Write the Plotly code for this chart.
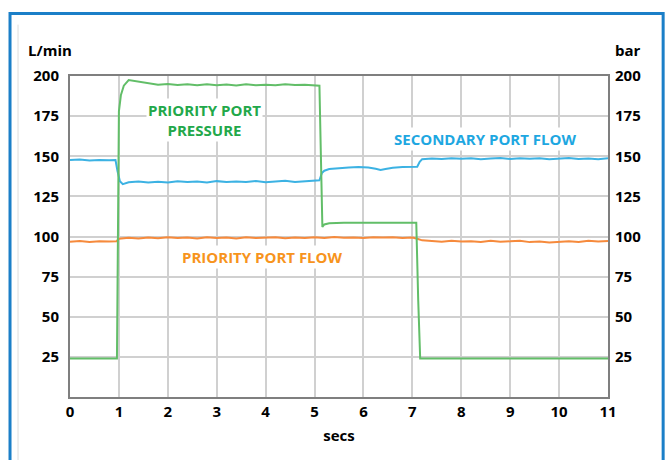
import plotly.graph_objects as go

# ---- data ----
t_pressure = [0, 0.5, 0.96, 0.98, 1.0, 1.04, 1.1, 1.2, 1.3, 1.45, 1.6, 1.8,
              2.0, 2.2, 2.4, 2.6, 2.8, 3.0, 3.2, 3.4, 3.6, 3.8, 4.0, 4.2, 4.4, 4.6, 4.8, 5.0,
              5.1, 5.13, 5.16, 5.2, 5.3, 5.6, 6.0, 6.5, 7.0, 7.08, 7.12, 7.16, 7.5, 8, 9, 10, 11]
priority_pressure = [24, 24, 24, 100, 178, 188, 194, 197.5, 197, 196, 195.2, 194.6,
                     195, 194.4, 194.8, 194.2, 194.9, 194.3, 194.7, 194.1, 194.8, 194.3, 194.6, 194.2, 194.9, 194.4, 194.6, 194.3,
                     194, 150, 106, 107.5, 108.3, 108.5, 108.5, 108.5, 108.5, 108.5, 60, 24, 24, 24, 24, 24, 24]

t_secondary = [0, 0.2, 0.4, 0.6, 0.8, 0.93, 0.97, 1.02, 1.08,
               1.2, 1.4, 1.6, 1.8, 2.0, 2.2, 2.4, 2.6, 2.8, 3.0, 3.2, 3.4, 3.6, 3.8, 4.0, 4.2, 4.4, 4.6, 4.8, 5.0,
               5.1, 5.15, 5.2, 5.3, 5.5, 5.7, 5.9, 6.1, 6.25, 6.35, 6.45, 6.6, 6.8, 7.0, 7.1,
               7.15, 7.2, 7.4, 7.6, 7.8, 8.0, 8.2, 8.4, 8.6, 8.8, 9.0, 9.2, 9.4, 9.6, 9.8, 10.0, 10.2, 10.4, 10.6, 10.8, 11.0]
secondary_flow = [147.6, 147.9, 147.4, 147.7, 147.5, 147.6, 141, 134.5, 132.6,
                  133.8, 134.3, 133.7, 134.1, 133.6, 134.4, 133.9, 134.2, 133.7, 134.5, 133.9, 134.3, 134.0, 134.6, 133.8, 134.2, 134.7, 134.0, 134.5, 134.9,
                  135.0, 139.5, 141.0, 142.0, 142.6, 143.0, 143.3, 143.0, 142.2, 141.4, 142.0, 142.9, 143.3, 143.6, 143.5,
                  146.5, 148.2, 148.6, 148.3, 148.8, 148.4, 148.7, 148.2, 148.6, 148.9, 148.3, 148.7, 148.4, 148.8, 148.2, 148.5, 148.9, 148.3, 148.6, 148.2, 148.8]

t_priority = [0, 0.2, 0.4, 0.6, 0.8, 0.95,
              1.0, 1.2, 1.4, 1.6, 1.8, 2.0, 2.2, 2.4, 2.6, 2.8, 3.0, 3.2, 3.4, 3.6, 3.8, 4.0, 4.2, 4.4, 4.6, 4.8,
              5.0, 5.2, 5.4, 5.6, 5.8, 6.0, 6.2, 6.4, 6.6, 6.8, 7.0, 7.1,
              7.2, 7.4, 7.6, 7.8, 8.0, 8.2, 8.4, 8.6, 8.8, 9.0, 9.2, 9.4, 9.6, 9.8, 10.0, 10.2, 10.4, 10.6, 10.8, 11.0]
priority_flow = [96.8, 97.2, 96.6, 97.0, 96.9, 97.1,
                 98.6, 99.2, 98.7, 99.4, 98.9, 99.5, 99.0, 99.3, 98.8, 99.6, 99.1, 99.3, 98.7, 99.5, 99.0, 99.2, 99.6, 98.9, 99.3, 99.0,
                 99.5, 99.1, 99.7, 99.2, 99.4, 99.0, 99.6, 99.3, 99.5, 99.1, 99.4, 98.6,
                 97.6, 97.2, 96.8, 97.4, 96.9, 97.1, 96.6, 97.3, 96.8, 97.0, 97.4, 96.5, 96.9, 96.2, 96.7, 97.0, 96.6, 97.3, 96.9, 97.2]

x_ticks = [0, 1, 2, 3, 4, 5, 6, 7, 8, 9, 10, 11]
y_ticks = [25, 50, 75, 100, 125, 150, 175, 200]

GREEN_LINE = "#62be68"
BLUE_LINE = "#3cb2e3"
ORANGE_LINE = "#f68a3c"
GREEN_TXT = "#22a84a"
BLUE_TXT = "#1ea7e1"
ORANGE_TXT = "#f7941d"
FONT = "Open Sans"

fig = go.Figure()
fig.add_trace(go.Scatter(x=t_priority, y=priority_flow, mode="lines",
                         line=dict(color=ORANGE_LINE, width=2), name="Priority port flow"))
fig.add_trace(go.Scatter(x=t_secondary, y=secondary_flow, mode="lines",
                         line=dict(color=BLUE_LINE, width=2), name="Secondary port flow"))
fig.add_trace(go.Scatter(x=t_pressure, y=priority_pressure, mode="lines", yaxis="y2",
                         line=dict(color=GREEN_LINE, width=2), name="Priority port pressure"))

tickfont = dict(family=FONT, size=15, color="black", weight="bold")
lblfont = dict(family=FONT, size=15, color="black", weight="bold")

fig.update_layout(
    width=667, height=460, autosize=False,
    margin=dict(l=70, r=59, t=76, b=63),
    paper_bgcolor="white", plot_bgcolor="white",
    showlegend=False,
    font=dict(family=FONT, color="black"),
    xaxis=dict(range=[0, 11], tickvals=x_ticks, showgrid=True, gridcolor="#d0d0d0", gridwidth=1.5,
               showline=True, linecolor="#7f7f7f", linewidth=2, mirror=True,
               ticks="", tickfont=tickfont, zeroline=False, automargin=False,
               title=dict(text="secs", font=lblfont, standoff=10)),
    yaxis=dict(range=[0, 200], tickvals=y_ticks, showgrid=True, gridcolor="#d0d0d0", gridwidth=1.5,
               showline=True, linecolor="#7f7f7f", linewidth=2, mirror=True, automargin=False,
               ticks="", tickfont=tickfont, zeroline=False, ticklabelstandoff=6),
    yaxis2=dict(range=[0, 200], tickvals=y_ticks, overlaying="y", side="right", showgrid=False,
                showline=False, ticks="", tickfont=tickfont, zeroline=False, ticklabelstandoff=6,
                automargin=False),
    annotations=[
        dict(text="L/min", xref="paper", yref="paper", x=-0.037, y=1.08, xanchor="center", yanchor="middle",
             showarrow=False, font=lblfont),
        dict(text="bar", xref="paper", yref="paper", x=1.037, y=1.08, xanchor="center", yanchor="middle",
             showarrow=False, font=lblfont),
        dict(text="PRIORITY PORT<br>PRESSURE", x=2.76, y=172.5, xref="x", yref="y",
             showarrow=False, bgcolor="white", align="center",
             font=dict(family=FONT, size=15, color=GREEN_TXT, weight="bold")),
        dict(text="SECONDARY PORT FLOW", x=8.49, y=161, xref="x", yref="y",
             showarrow=False, bgcolor="white",
             font=dict(family=FONT, size=15, color=BLUE_TXT, weight="bold")),
        dict(text="PRIORITY PORT FLOW", x=3.93, y=87.5, xref="x", yref="y",
             showarrow=False, bgcolor="white",
             font=dict(family=FONT, size=15, color=ORANGE_TXT, weight="bold")),
    ],
    shapes=[
        dict(type="line", xref="paper", yref="paper", x0=-0.0966, x1=-0.0966, y0=1.16, y1=-0.25,
             line=dict(color="#dddddd", width=1)),
        dict(type="rect", xref="paper", yref="paper", x0=-0.1115, x1=1.1025, y0=1.195, y1=-0.25,
             line=dict(color="#1b7fc8", width=3), fillcolor="rgba(0,0,0,0)"),
    ],
)

fig.write_html("out.html", config={"displayModeBar": False},
               post_script="document.body.style.margin='0';document.body.style.padding='0';")
